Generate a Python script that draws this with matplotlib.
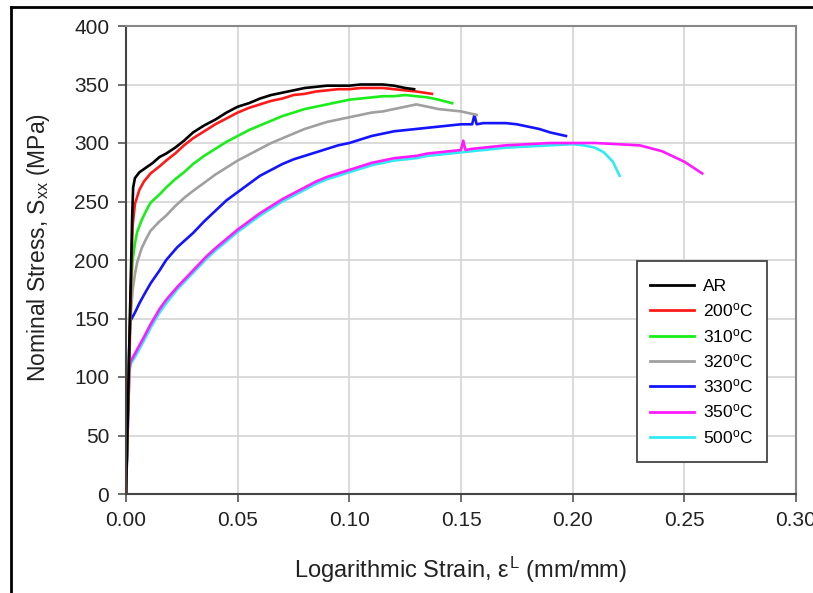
import matplotlib
matplotlib.use("Agg")
import matplotlib.pyplot as plt
from matplotlib.lines import Line2D
from matplotlib.patches import Rectangle

plt.rcParams['font.family'] = ['Liberation Sans', 'DejaVu Sans']
plt.rcParams['mathtext.fontset'] = 'custom'
plt.rcParams['mathtext.rm'] = 'Liberation Sans'
plt.rcParams['mathtext.it'] = 'Liberation Sans'

# ---- data ----
ar_x = [0, 0.0028, 0.0032, 0.004, 0.006, 0.009, 0.012, 0.015, 0.018, 0.022, 0.026, 0.030, 0.035,
        0.040, 0.045, 0.050, 0.055, 0.060, 0.065, 0.070, 0.075, 0.080, 0.085, 0.090, 0.095, 0.100,
        0.105, 0.110, 0.115, 0.120, 0.125, 0.129]
ar_y = [0, 240, 262, 270, 275, 279, 283, 288, 291, 296, 302, 309, 315, 320, 326, 331, 334, 338, 341,
        343, 345, 347, 348, 349, 349, 349, 350, 350, 350, 349, 347, 346]

t200_x = [0, 0.0025, 0.003, 0.004, 0.006, 0.008, 0.011, 0.015, 0.018, 0.022, 0.026, 0.030, 0.035,
          0.040, 0.045, 0.050, 0.055, 0.060, 0.065, 0.070, 0.075, 0.080, 0.085, 0.090, 0.095, 0.100,
          0.105, 0.110, 0.115, 0.120, 0.125, 0.130, 0.137]
t200_y = [0, 200, 230, 248, 260, 267, 274, 280, 285, 291, 298, 304, 310, 316, 321, 326, 330, 333,
          336, 338, 341, 342, 344, 345, 346, 346, 347, 347, 347, 346, 345, 344, 342]

t310_x = [0, 0.002, 0.003, 0.004, 0.005, 0.007, 0.009, 0.011, 0.015, 0.018, 0.022, 0.026, 0.030,
          0.035, 0.040, 0.045, 0.050, 0.055, 0.060, 0.065, 0.070, 0.075, 0.080, 0.085, 0.090, 0.095,
          0.100, 0.105, 0.110, 0.115, 0.120, 0.125, 0.130, 0.135, 0.140, 0.146]
t310_y = [0, 170, 200, 214, 224, 234, 242, 249, 256, 262, 269, 275, 282, 289, 295, 301, 306, 311,
          315, 319, 323, 326, 329, 331, 333, 335, 337, 338, 339, 340, 340, 341, 340, 339, 337, 334]

t320_x = [0, 0.002, 0.003, 0.004, 0.005, 0.007, 0.009, 0.011, 0.015, 0.018, 0.022, 0.026, 0.030,
          0.035, 0.040, 0.045, 0.050, 0.055, 0.060, 0.065, 0.070, 0.075, 0.080, 0.085, 0.090, 0.095,
          0.100, 0.105, 0.110, 0.115, 0.120, 0.125, 0.130, 0.135, 0.140, 0.145, 0.150, 0.157]
t320_y = [0, 150, 175, 188, 198, 210, 218, 225, 233, 238, 246, 253, 259, 266, 273, 279, 285, 290,
          295, 300, 304, 308, 312, 315, 318, 320, 322, 324, 326, 327, 329, 331, 333, 331, 329, 328,
          327, 324]

t330_x = [0, 0.0015, 0.002, 0.004, 0.006, 0.008, 0.011, 0.015, 0.018, 0.023, 0.030, 0.035, 0.040,
          0.045, 0.050, 0.055, 0.060, 0.065, 0.070, 0.075, 0.080, 0.085, 0.090, 0.095, 0.100, 0.105,
          0.110, 0.115, 0.120, 0.125, 0.130, 0.135, 0.140, 0.145, 0.150, 0.155, 0.156, 0.157, 0.160,
          0.165, 0.170, 0.175, 0.180, 0.185, 0.190, 0.197]
t330_y = [0, 130, 148, 155, 163, 170, 180, 191, 200, 211, 223, 233, 242, 251, 258, 265, 272, 277,
          282, 286, 289, 292, 295, 298, 300, 303, 306, 308, 310, 311, 312, 313, 314, 315, 316, 316,
          324, 316, 317, 317, 317, 316, 314, 312, 309, 306]

t350_x = [0, 0.0015, 0.002, 0.004, 0.006, 0.008, 0.011, 0.015, 0.018, 0.023, 0.030, 0.036, 0.040,
          0.045, 0.050, 0.055, 0.060, 0.065, 0.070, 0.075, 0.080, 0.085, 0.090, 0.095, 0.100, 0.105,
          0.110, 0.115, 0.120, 0.125, 0.130, 0.135, 0.140, 0.145, 0.150, 0.151, 0.152, 0.155, 0.160,
          0.170, 0.180, 0.190, 0.200, 0.210, 0.220, 0.230, 0.240, 0.250, 0.258]
t350_y = [0, 105, 113, 120, 127, 134, 145, 158, 166, 177, 191, 203, 210, 218, 226, 233, 240, 246,
          252, 257, 262, 267, 271, 274, 277, 280, 283, 285, 287, 288, 289, 291, 292, 293, 294, 302,
          294, 295, 296, 298, 299, 300, 300, 300, 299, 298, 293, 284, 274]

t500_x = [0, 0.0015, 0.002, 0.004, 0.006, 0.008, 0.011, 0.015, 0.018, 0.023, 0.030, 0.036, 0.040,
          0.045, 0.050, 0.055, 0.060, 0.065, 0.070, 0.075, 0.080, 0.085, 0.090, 0.095, 0.100, 0.105,
          0.110, 0.115, 0.120, 0.125, 0.130, 0.135, 0.140, 0.145, 0.150, 0.160, 0.170, 0.180, 0.190,
          0.200, 0.205, 0.210, 0.214, 0.218, 0.221]
t500_y = [0, 104, 111, 117, 124, 131, 142, 155, 163, 175, 189, 201, 208, 216, 224, 231, 238, 244,
          250, 255, 260, 265, 269, 272, 275, 278, 281, 283, 285, 286, 287, 289, 290, 291, 292, 294,
          296, 297, 298, 299, 298, 296, 292, 284, 272]

labels = ['AR', '200$^{\\mathrm{o}}$C', '310$^{\\mathrm{o}}$C', '320$^{\\mathrm{o}}$C',
          '330$^{\\mathrm{o}}$C', '350$^{\\mathrm{o}}$C', '500$^{\\mathrm{o}}$C']
colors = ['#000000', '#ff1a1a', '#1aee1a', '#a0a0a0', '#1414ff', '#ff1aff', '#30eaf5']
series = [(ar_x, ar_y), (t200_x, t200_y), (t310_x, t310_y), (t320_x, t320_y),
          (t330_x, t330_y), (t350_x, t350_y), (t500_x, t500_y)]

x_ticks = [0.00, 0.05, 0.10, 0.15, 0.20, 0.25, 0.30]
y_ticks = [0, 50, 100, 150, 200, 250, 300, 350, 400]

fig = plt.figure(figsize=(8.13, 5.93), dpi=100)
ax = fig.add_axes([126/813, 1 - 494/593, 670/813, 468/593])

# draw in reverse order so AR on top like reference
for (x, y), c, lab in reversed(list(zip(series, colors, labels))):
    ax.plot(x, y, color=c, lw=1.9, label=lab)

ax.set_xlim(0, 0.30)
ax.set_ylim(0, 400)
ax.set_xticks(x_ticks)
ax.set_xticklabels([f"{v:.2f}" for v in x_ticks])
ax.set_yticks(y_ticks)
ax.grid(True, color='#d4d4d4', lw=1.2)
ax.set_axisbelow(True)
ax.tick_params(axis='both', labelsize=15, colors='#555555', labelcolor='#222222',
               direction='out', length=6, width=1.2, pad=6)
for s in ['left', 'bottom']:
    ax.spines[s].set_color('#444444')
    ax.spines[s].set_linewidth(1.5)
for s in ['top', 'right']:
    ax.spines[s].set_color('#888888')
    ax.spines[s].set_linewidth(1.5)

ax.set_xlabel('Logarithmic Strain, $\\varepsilon^{\\mathrm{L}}$ (mm/mm)', fontsize=17,
              color='#222222', labelpad=18)
ax.set_ylabel('Nominal Stress, S$_{\\mathrm{xx}}$ (MPa)', fontsize=16.5, color='#222222',
              labelpad=16)
ax.yaxis.label.set_y(0.526)

# legend frame drawn as a rectangle, entries placed inside it
ax.add_patch(Rectangle((0.7627, 0.0684), 0.9567 - 0.7627, 0.4979 - 0.0684,
                       transform=ax.transAxes, facecolor='white', edgecolor='#444444',
                       lw=1.3, zorder=4))
handles = [Line2D([0], [0], color=c, lw=2) for c in colors]
leg = ax.legend(handles, labels, loc='upper left', bbox_to_anchor=(0.763, 0.487),
                borderaxespad=0, fontsize=12.5, frameon=False,
                handlelength=2.5, labelspacing=0.42, borderpad=0.75,
                handletextpad=0.55)
leg.set_zorder(5)

# outer image frame
fig.add_artist(Line2D([11/813, 11/813], [0, 1 - 7/593], transform=fig.transFigure,
                      color='black', lw=2))
fig.add_artist(Line2D([11/813, 1], [1 - 7/593, 1 - 7/593], transform=fig.transFigure,
                      color='black', lw=2))

fig.savefig('out.png', dpi=100)
